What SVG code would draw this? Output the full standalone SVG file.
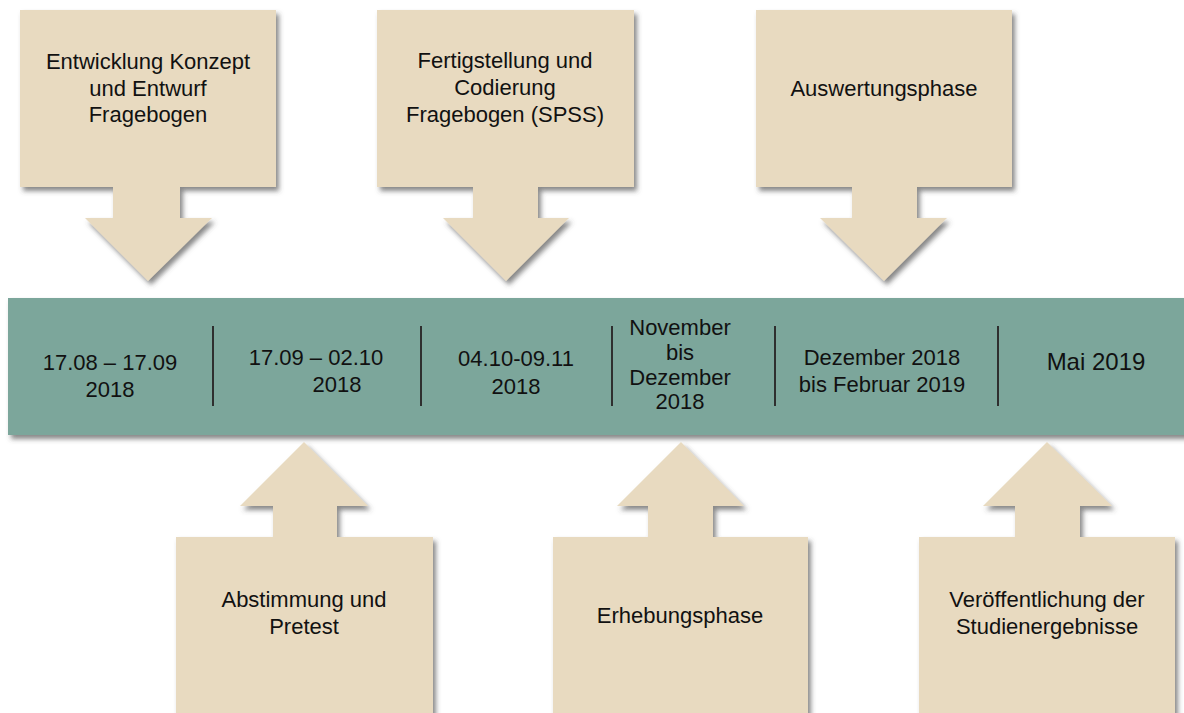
<svg xmlns="http://www.w3.org/2000/svg" width="1184" height="713" viewBox="0 0 1184 713">
  <style>
    .callout { fill: #E8DAC0; filter: url(#shadow); }
    .bar { fill: #7BA69B; filter: url(#shadow); }
    .sep { stroke: #2f2f2f; stroke-width: 2; }
    text { font-family: "Liberation Sans", Arial, sans-serif; fill: #111; text-anchor: middle; }
    .t { font-size: 22px; }
    .big { font-size: 24px; }
  </style>
  <defs>
    <filter id="shadow" x="-10%" y="-10%" width="120%" height="130%">
      <feDropShadow dx="3" dy="4" stdDeviation="2.5" flood-color="#4a4a4a" flood-opacity="0.65"/>
    </filter>
  </defs>
  <rect width="1184" height="713" fill="#ffffff"/>

  <g id="timeline">
    <rect class="bar" x="8" y="298" width="1180" height="137"/>
    <g id="connectors">
      <line class="sep" x1="213" y1="326" x2="213" y2="406"/>
      <line class="sep" x1="421" y1="326" x2="421" y2="406"/>
      <line class="sep" x1="612" y1="326" x2="612" y2="406"/>
      <line class="sep" x1="775" y1="326" x2="775" y2="406"/>
      <line class="sep" x1="998" y1="326" x2="998" y2="406"/>
    </g>
    <g id="date1"><text class="t" x="110" y="370">17.08 – 17.09</text><text class="t" x="110" y="397">2018</text></g>
    <g id="date2"><text class="t" x="316" y="365">17.09 – 02.10</text><text class="t" x="337" y="392">2018</text></g>
    <g id="date3"><text class="t" x="516" y="366">04.10-09.11</text><text class="t" x="516" y="394">2018</text></g>
    <g id="date4"><text class="t" x="680" y="335">November</text><text class="t" x="680" y="360">bis</text><text class="t" x="680" y="385">Dezember</text><text class="t" x="680" y="409">2018</text></g>
    <g id="date5"><text class="t" x="882" y="365">Dezember 2018</text><text class="t" x="882" y="392">bis Februar 2019</text></g>
    <g id="date6"><text class="big" x="1096" y="370">Mai 2019</text></g>
  </g>

  <g id="top1">
    <path class="callout" d="M20,10 H276 V187 H180 V218 H212 L148,281 L85,218 H113 V187 H20 Z"/>
    <text class="t" x="148" y="69">Entwicklung Konzept</text>
    <text class="t" x="148" y="96">und Entwurf</text>
    <text class="t" x="148" y="122">Fragebogen</text>
  </g>
  <g id="top2">
    <path class="callout" d="M377,10 H634 V187 H538 V218 H569 L506,281 L443,218 H473 V187 H377 Z"/>
    <text class="t" x="505" y="68">Fertigstellung und</text>
    <text class="t" x="505" y="95">Codierung</text>
    <text class="t" x="505" y="122">Fragebogen (SPSS)</text>
  </g>
  <g id="top3">
    <path class="callout" d="M756,10 H1012 V187 H917 V218 H947 L884,281 L820,218 H852 V187 H756 Z"/>
    <text class="t" x="884" y="96">Auswertungsphase</text>
  </g>

  <g id="bottom1">
    <path class="callout" d="M176,730 V537 H273 V506 H240 L304,442 L368,506 H337 V537 H433 V730 Z"/>
    <text class="t" x="304" y="607">Abstimmung und</text>
    <text class="t" x="304" y="634">Pretest</text>
  </g>
  <g id="bottom2">
    <path class="callout" d="M553,730 V537 H648 V506 H617 L681,442 L744,506 H713 V537 H808 V730 Z"/>
    <text class="t" x="680" y="623">Erhebungsphase</text>
  </g>
  <g id="bottom3">
    <path class="callout" d="M919,730 V537 H1015 V506 H983 L1047,442 L1112,506 H1080 V537 H1175 V730 Z"/>
    <text class="t" x="1047" y="607">Veröffentlichung der</text>
    <text class="t" x="1047" y="634">Studienergebnisse</text>
  </g>
</svg>
